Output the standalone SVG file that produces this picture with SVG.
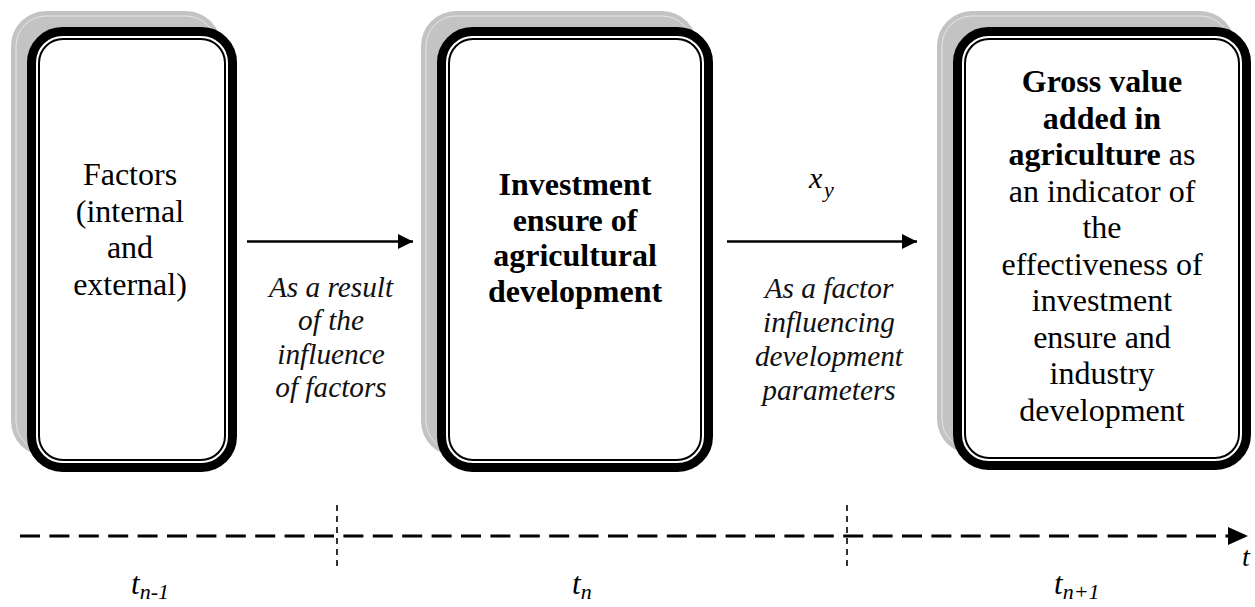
<svg xmlns="http://www.w3.org/2000/svg" width="1255" height="607" viewBox="0 0 1255 607">
<defs>
<style>
.shadow{fill:#c3c3c3;stroke:none}
.shline{fill:none;stroke:#e6e6e6;stroke-width:1}
.outer{fill:#fff;stroke:#000;stroke-width:9}
.inner{fill:none;stroke:#000;stroke-width:2}
text{font-family:'Liberation Serif','Times New Roman','DejaVu Serif',serif}
.t{font-size:32px;fill:#000;text-anchor:middle}
.b{font-weight:bold}
.lab{font-size:29.3px;font-style:italic;fill:#111;text-anchor:middle}
.ti{font-style:italic;fill:#000}
.arrow{stroke:#000;stroke-width:2.5;fill:none}
.axis{stroke:#000;stroke-width:3;fill:none;stroke-dasharray:20 9.4}
.tick{stroke:#000;stroke-width:1.6;fill:none;stroke-dasharray:6 5}
</style>
<marker id="ah" viewBox="0 0 10 10" refX="10" refY="5" markerWidth="6.5" markerHeight="6" markerUnits="strokeWidth" orient="auto">
<path d="M0,0 L10,5 L0,10 z" fill="#000"/>
</marker>
</defs>

<g id="node-factors">
<rect class="shadow" x="11" y="11" width="210" height="445" rx="35"/>
<rect class="shline" x="16" y="16" width="200" height="435" rx="30"/>
<rect class="outer" x="31.5" y="31.5" width="201" height="436" rx="31"/>
<rect class="inner" x="39" y="39" width="186" height="421" rx="24"/>
<text class="t" x="130" y="185" font-family="Liberation Serif, serif">Factors</text>
<text class="t" x="130" y="221.5" font-family="Liberation Serif, serif">(internal</text>
<text class="t" x="130" y="258" font-family="Liberation Serif, serif">and</text>
<text class="t" x="130" y="294.5" font-family="Liberation Serif, serif">external)</text>
</g>

<g id="node-investment" font-family="Liberation Serif, serif">
<rect class="shadow" x="421" y="11" width="276" height="445" rx="35"/>
<rect class="shline" x="426" y="16" width="266" height="435" rx="30"/>
<rect class="outer" x="441.5" y="31.5" width="267" height="436" rx="31"/>
<rect class="inner" x="449" y="39" width="252" height="421" rx="24"/>
<text class="t b" x="575" y="195">Investment</text>
<text class="t b" x="575" y="230.5">ensure of</text>
<text class="t b" x="575" y="266">agricultural</text>
<text class="t b" x="575" y="301.5">development</text>
</g>

<g id="node-gva">
<rect class="shadow" x="937" y="11" width="298" height="443" rx="35"/>
<rect class="shline" x="942" y="16" width="288" height="433" rx="30"/>
<rect class="outer" x="957.5" y="31.5" width="289" height="434" rx="31"/>
<rect class="inner" x="965" y="39" width="274" height="419" rx="24"/>
<text class="t b" x="1102" y="92">Gross value</text>
<text class="t b" x="1102" y="128.5">added in</text>
<text class="t" x="1102" y="165"><tspan font-weight="bold">agriculture</tspan> as</text>
<text class="t" x="1102" y="201.5">an indicator of</text>
<text class="t" x="1102" y="238">the</text>
<text class="t" x="1102" y="274.5">effectiveness of</text>
<text class="t" x="1102" y="311">investment</text>
<text class="t" x="1102" y="347.5">ensure and</text>
<text class="t" x="1102" y="384">industry</text>
<text class="t" x="1102" y="420.5">development</text>
</g>

<g id="connectors">
<line class="arrow" x1="247" y1="241.5" x2="413" y2="241.5" marker-end="url(#ah)"/>
<line class="arrow" x1="727" y1="241.5" x2="917" y2="241.5" marker-end="url(#ah)"/>
<line class="axis" x1="20" y1="536" x2="1232" y2="536"/>
<path d="M1228,527 L1248,536 L1228,545 z" fill="#000"/>
<line class="tick" x1="337" y1="505" x2="337" y2="569"/>
<line class="tick" x1="847" y1="505" x2="847" y2="569"/>
</g>

<g id="labels">
<text class="lab" x="331" y="297">As a result</text>
<text class="lab" x="331" y="330">of the</text>
<text class="lab" x="331" y="363.5">influence</text>
<text class="lab" x="331" y="397">of factors</text>
<text class="lab" x="829" y="298">As a factor</text>
<text class="lab" x="829" y="332">influencing</text>
<text class="lab" x="829" y="366">development</text>
<text class="lab" x="829" y="400">parameters</text>
<text class="ti" x="809" y="188" font-size="30" fill="#3a2a10">x</text>
<text class="ti" x="824" y="197" font-size="22" fill="#2a2040">y</text>
<text class="ti" x="131" y="594" font-size="31">t<tspan font-size="22" dy="5">n-1</tspan></text>
<text class="ti" x="572" y="594" font-size="31">t<tspan font-size="22" dy="5">n</tspan></text>
<text class="ti" x="1054" y="594" font-size="31">t<tspan font-size="22" dy="5">n+1</tspan></text>
<text class="ti" x="1242" y="566" font-size="28">t</text>
</g>
</svg>
